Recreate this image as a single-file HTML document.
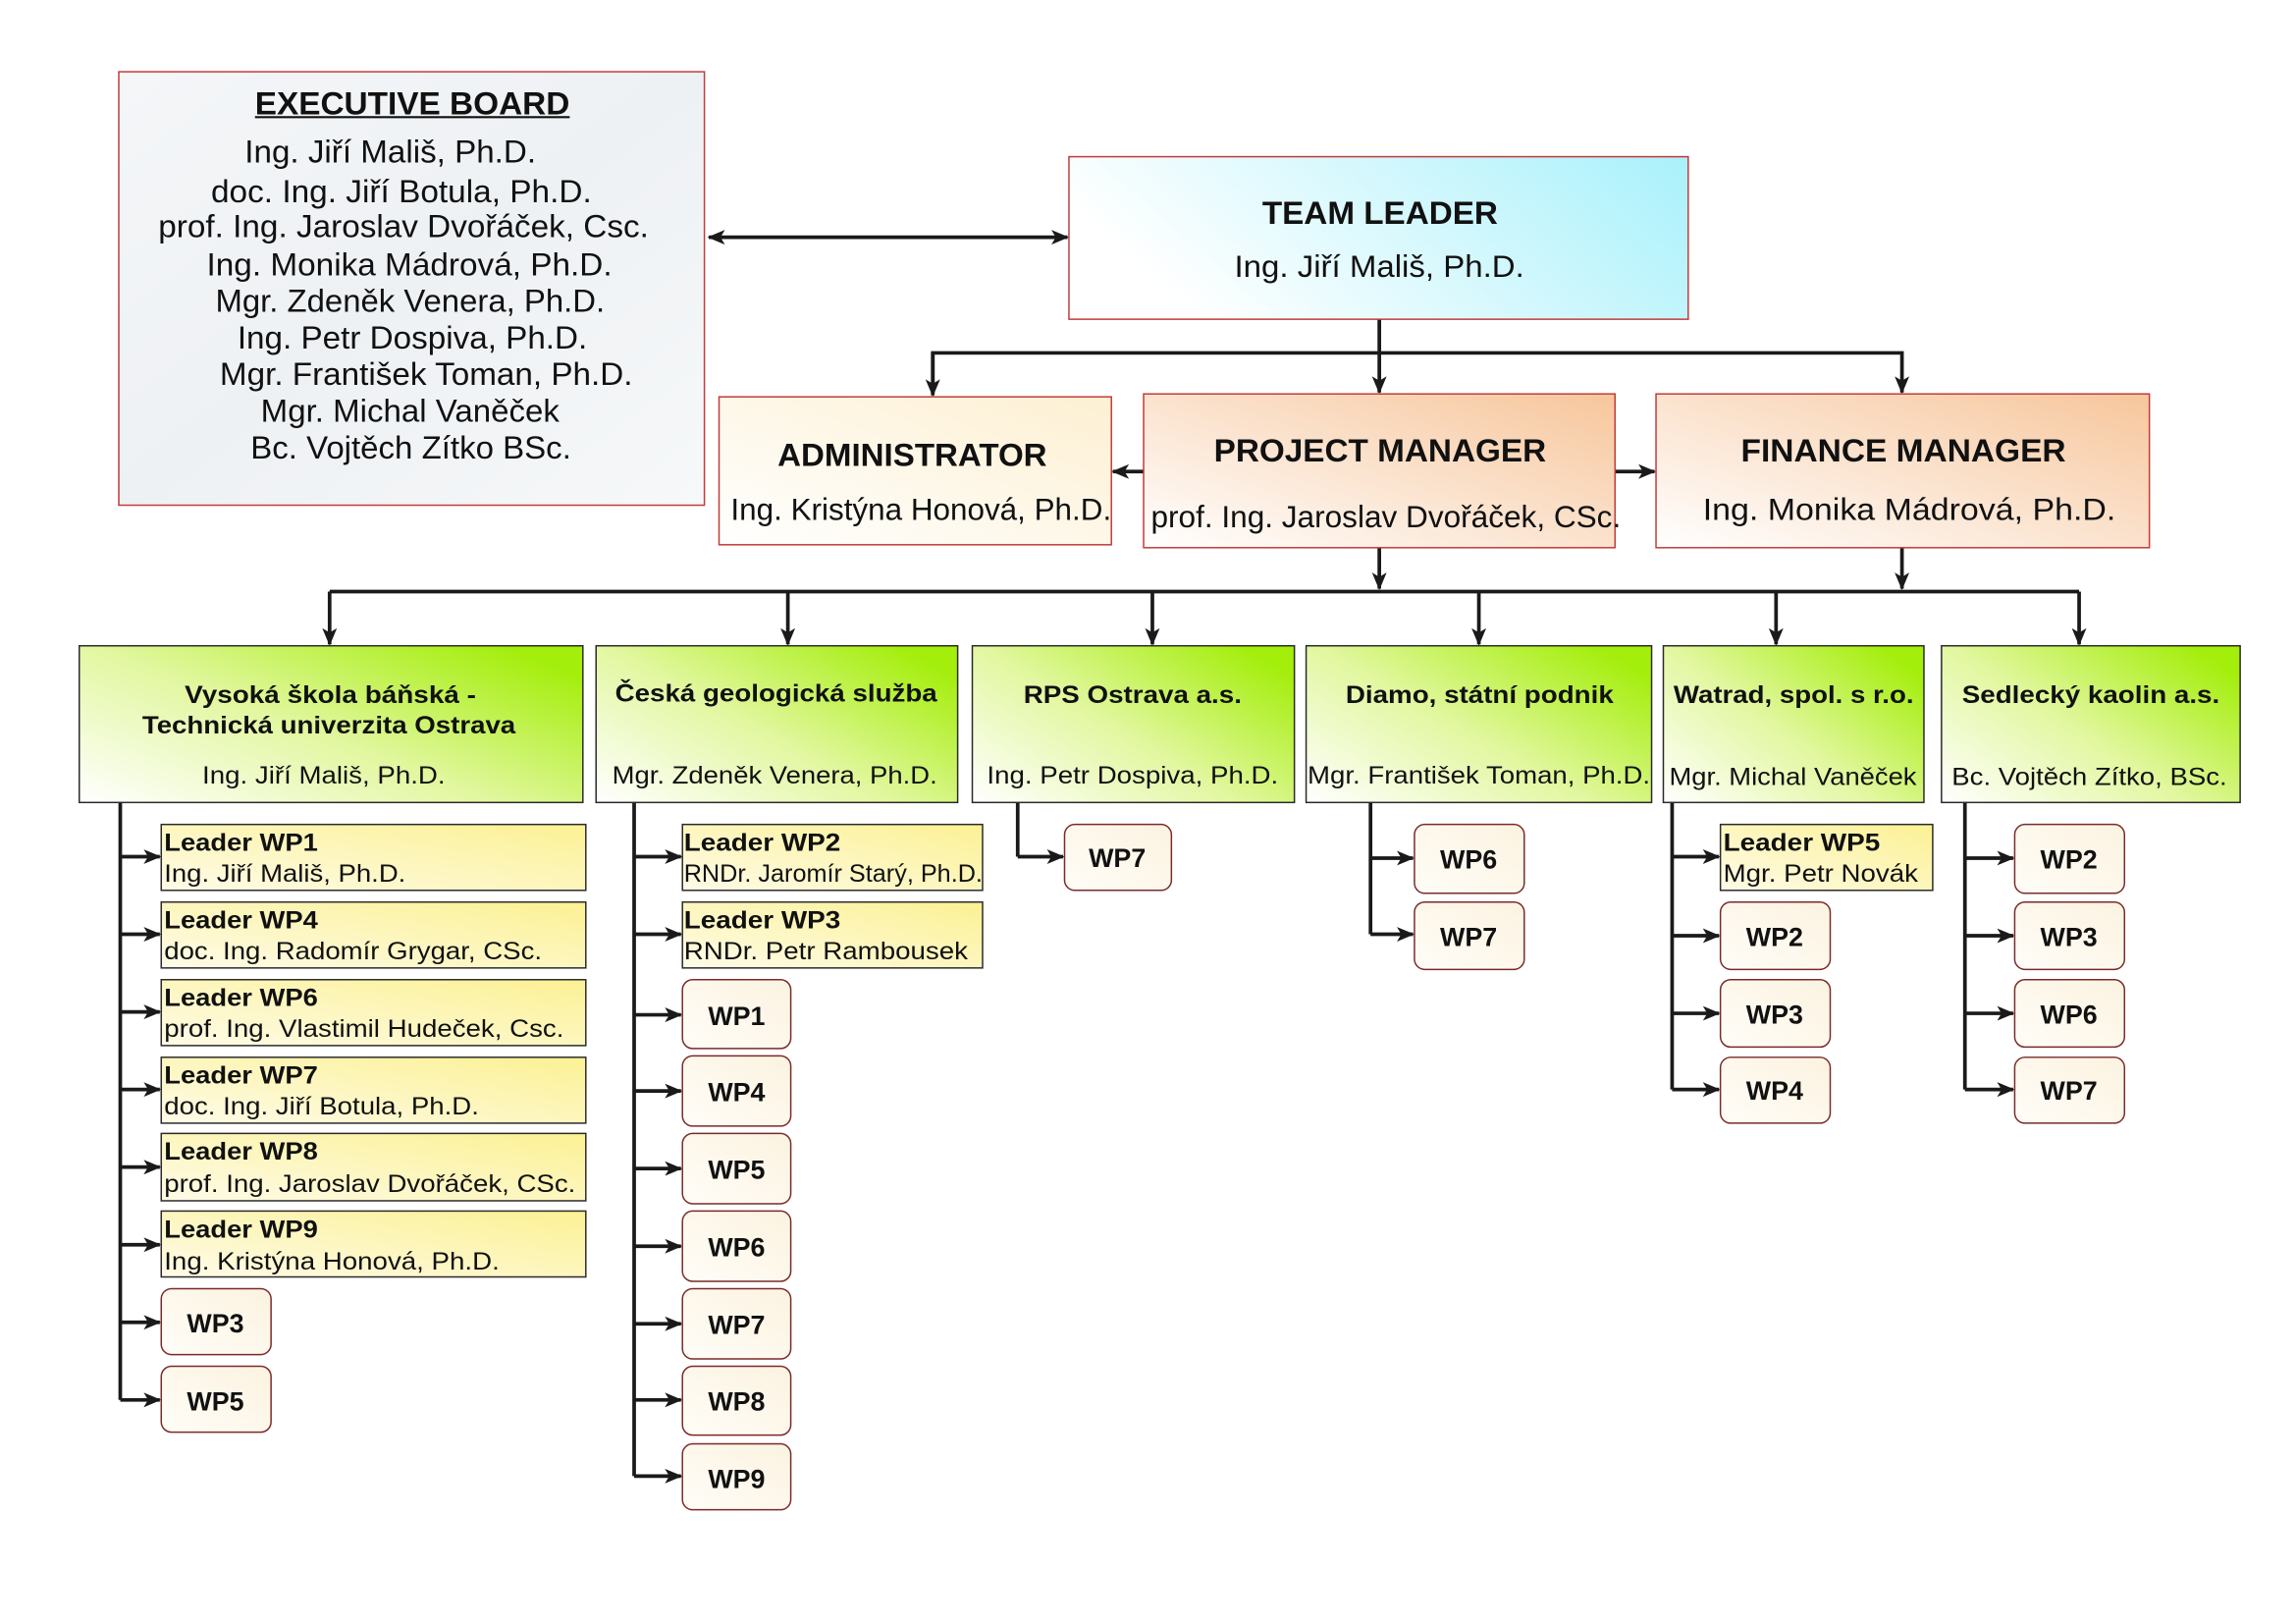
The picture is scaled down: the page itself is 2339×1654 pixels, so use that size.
<!DOCTYPE html>
<html><head><meta charset="utf-8"><style>
html,body{margin:0;padding:0;background:#fff;}
svg{display:block;}
text{font-family:"Liberation Sans",Arial,sans-serif;fill:#111;}
.b{font-weight:bold;}
</style></head><body>
<svg width="2339" height="1654" viewBox="0 0 1568 1109" xmlns="http://www.w3.org/2000/svg">
<defs>
<marker id="ar" markerUnits="userSpaceOnUse" markerWidth="12" markerHeight="12" refX="11" refY="6" orient="auto-start-reverse">
<path d="M0,1 L12,6 L0,11 L3,6 z" fill="#1a1a1a"/></marker>
<linearGradient id="gEx" x1="0" y1="0" x2="1" y2="1"><stop offset="0" stop-color="#f4f6f8"/><stop offset="0.5" stop-color="#eef1f4"/><stop offset="1" stop-color="#f6f8f9"/></linearGradient>
<linearGradient id="gTL" x1="0" y1="0.3" x2="1" y2="0"><stop offset="0" stop-color="#ffffff"/><stop offset="1" stop-color="#a9f1fb"/></linearGradient>
<linearGradient id="gAd" x1="0" y1="1" x2="1" y2="0"><stop offset="0" stop-color="#ffffff"/><stop offset="1" stop-color="#fdf0d2"/></linearGradient>
<linearGradient id="gPM" x1="0" y1="1" x2="1" y2="0"><stop offset="0" stop-color="#ffffff"/><stop offset="1" stop-color="#f7c69c"/></linearGradient>
<linearGradient id="gOr" x1="0" y1="1" x2="1" y2="0.2"><stop offset="0" stop-color="#ffffff"/><stop offset="0.5" stop-color="#e2f7a0"/><stop offset="1" stop-color="#a4ee0c"/></linearGradient>
<linearGradient id="gLd" x1="0" y1="1" x2="1" y2="0"><stop offset="0" stop-color="#fefbe8"/><stop offset="1" stop-color="#fcf193"/></linearGradient>
<linearGradient id="gWP" x1="0" y1="1" x2="1" y2="0"><stop offset="0" stop-color="#fffdf8"/><stop offset="1" stop-color="#fcf3e0"/></linearGradient>
</defs>

<g stroke="#1a1a1a" stroke-width="2.5" fill="none">
<line x1="484" y1="162" x2="729" y2="162" marker-end="url(#ar)" marker-start="url(#ar)"/>
<line x1="942" y1="218" x2="942" y2="268" marker-end="url(#ar)"/>
<polyline points="637,269 637,241 1299,241 1299,268" marker-end="url(#ar)"/>
<line x1="637" y1="241" x2="637" y2="270" marker-end="url(#ar)"/>
<line x1="781" y1="322" x2="760" y2="322" marker-end="url(#ar)"/>
<line x1="1103" y1="322" x2="1130" y2="322" marker-end="url(#ar)"/>
<line x1="942" y1="374" x2="942" y2="402" marker-end="url(#ar)"/>
<line x1="1299" y1="374" x2="1299" y2="402" marker-end="url(#ar)"/>
<line x1="225" y1="404" x2="1420" y2="404"/>
<line x1="225" y1="404" x2="225" y2="440" marker-end="url(#ar)"/>
<line x1="538" y1="404" x2="538" y2="440" marker-end="url(#ar)"/>
<line x1="787" y1="404" x2="787" y2="440" marker-end="url(#ar)"/>
<line x1="1010" y1="404" x2="1010" y2="440" marker-end="url(#ar)"/>
<line x1="1213" y1="404" x2="1213" y2="440" marker-end="url(#ar)"/>
<line x1="1420" y1="404" x2="1420" y2="440" marker-end="url(#ar)"/>
<polyline points="82,548 82,956"/>
<polyline points="433,548 433,1008"/>
<polyline points="695,548 695,585"/>
<polyline points="936,548 936,638"/>
<polyline points="1142,548 1142,744"/>
<polyline points="1342,548 1342,744"/>
<line x1="82" y1="585" x2="109" y2="585" marker-end="url(#ar)"/>
<line x1="82" y1="638" x2="109" y2="638" marker-end="url(#ar)"/>
<line x1="82" y1="691" x2="109" y2="691" marker-end="url(#ar)"/>
<line x1="82" y1="744" x2="109" y2="744" marker-end="url(#ar)"/>
<line x1="82" y1="797" x2="109" y2="797" marker-end="url(#ar)"/>
<line x1="82" y1="850" x2="109" y2="850" marker-end="url(#ar)"/>
<line x1="82" y1="903" x2="109" y2="903" marker-end="url(#ar)"/>
<line x1="82" y1="956" x2="109" y2="956" marker-end="url(#ar)"/>
<line x1="433" y1="585" x2="465" y2="585" marker-end="url(#ar)"/>
<line x1="433" y1="638" x2="465" y2="638" marker-end="url(#ar)"/>
<line x1="433" y1="693" x2="465" y2="693" marker-end="url(#ar)"/>
<line x1="433" y1="745" x2="465" y2="745" marker-end="url(#ar)"/>
<line x1="433" y1="798" x2="465" y2="798" marker-end="url(#ar)"/>
<line x1="433" y1="851" x2="465" y2="851" marker-end="url(#ar)"/>
<line x1="433" y1="904" x2="465" y2="904" marker-end="url(#ar)"/>
<line x1="433" y1="956" x2="465" y2="956" marker-end="url(#ar)"/>
<line x1="433" y1="1008" x2="465" y2="1008" marker-end="url(#ar)"/>
<line x1="695" y1="585" x2="726" y2="585" marker-end="url(#ar)"/>
<line x1="936" y1="586" x2="965" y2="586" marker-end="url(#ar)"/>
<line x1="936" y1="638" x2="965" y2="638" marker-end="url(#ar)"/>
<line x1="1142" y1="585" x2="1174" y2="585" marker-end="url(#ar)"/>
<line x1="1142" y1="639" x2="1174" y2="639" marker-end="url(#ar)"/>
<line x1="1142" y1="692" x2="1174" y2="692" marker-end="url(#ar)"/>
<line x1="1142" y1="744" x2="1174" y2="744" marker-end="url(#ar)"/>
<line x1="1342" y1="586" x2="1375" y2="586" marker-end="url(#ar)"/>
<line x1="1342" y1="639" x2="1375" y2="639" marker-end="url(#ar)"/>
<line x1="1342" y1="692" x2="1375" y2="692" marker-end="url(#ar)"/>
<line x1="1342" y1="744" x2="1375" y2="744" marker-end="url(#ar)"/>
</g>

<g stroke="#c23a3a" stroke-width="1">
<rect x="81" y="49" width="400" height="296" fill="url(#gEx)"/>
<rect x="730" y="107" width="423" height="111" fill="url(#gTL)"/>
<rect x="491" y="271" width="268" height="101" fill="url(#gAd)"/>
<rect x="781" y="269" width="322" height="105" fill="url(#gPM)"/>
<rect x="1131" y="269" width="337" height="105" fill="url(#gPM)"/>
</g>
<g stroke="#2a2a2a" stroke-width="1">
<rect x="54" y="441" width="344" height="107" fill="url(#gOr)"/>
<rect x="407" y="441" width="247" height="107" fill="url(#gOr)"/>
<rect x="664" y="441" width="220" height="107" fill="url(#gOr)"/>
<rect x="892" y="441" width="236" height="107" fill="url(#gOr)"/>
<rect x="1136" y="441" width="178" height="107" fill="url(#gOr)"/>
<rect x="1326" y="441" width="204" height="107" fill="url(#gOr)"/>
<rect x="110" y="563" width="290" height="45" fill="url(#gLd)"/>
<rect x="110" y="616" width="290" height="45" fill="url(#gLd)"/>
<rect x="110" y="669" width="290" height="45" fill="url(#gLd)"/>
<rect x="110" y="722" width="290" height="45" fill="url(#gLd)"/>
<rect x="110" y="774" width="290" height="46" fill="url(#gLd)"/>
<rect x="110" y="827" width="290" height="45" fill="url(#gLd)"/>
<rect x="466" y="563" width="205" height="45" fill="url(#gLd)"/>
<rect x="466" y="616" width="205" height="45" fill="url(#gLd)"/>
<rect x="1175" y="563" width="145" height="45" fill="url(#gLd)"/>
</g>
<g stroke="#7a2a2a" stroke-width="1" fill="url(#gWP)">
<rect x="110" y="880" width="75" height="45" rx="7"/>
<rect x="110" y="933" width="75" height="45" rx="7"/>
<rect x="466" y="669" width="74" height="47" rx="7"/>
<rect x="466" y="721" width="74" height="48" rx="7"/>
<rect x="466" y="774" width="74" height="48" rx="7"/>
<rect x="466" y="827" width="74" height="48" rx="7"/>
<rect x="466" y="880" width="74" height="48" rx="7"/>
<rect x="466" y="933" width="74" height="47" rx="7"/>
<rect x="466" y="986" width="74" height="45" rx="7"/>
<rect x="727" y="563" width="73" height="45" rx="7"/>
<rect x="966" y="563" width="75" height="47" rx="7"/>
<rect x="966" y="616" width="75" height="46" rx="7"/>
<rect x="1175" y="616" width="75" height="46" rx="7"/>
<rect x="1175" y="669" width="75" height="46" rx="7"/>
<rect x="1175" y="722" width="75" height="45" rx="7"/>
<rect x="1376" y="563" width="75" height="47" rx="7"/>
<rect x="1376" y="616" width="75" height="46" rx="7"/>
<rect x="1376" y="669" width="75" height="46" rx="7"/>
<rect x="1376" y="722" width="75" height="45" rx="7"/>
</g>

<g>
<text class="b" x="174" y="78" font-size="22" textLength="215" lengthAdjust="spacingAndGlyphs">EXECUTIVE BOARD</text>
<line x1="174" y1="80" x2="389" y2="80" stroke="#111" stroke-width="1.5"/>
<g font-size="22">
<text x="167" y="111" textLength="199" lengthAdjust="spacingAndGlyphs">Ing. Jiří Mališ, Ph.D.</text>
<text x="144" y="138" textLength="260" lengthAdjust="spacingAndGlyphs">doc. Ing. Jiří Botula, Ph.D.</text>
<text x="108" y="162" textLength="335" lengthAdjust="spacingAndGlyphs">prof. Ing. Jaroslav Dvořáček, Csc.</text>
<text x="141" y="188" textLength="277" lengthAdjust="spacingAndGlyphs">Ing. Monika Mádrová, Ph.D.</text>
<text x="147" y="213" textLength="266" lengthAdjust="spacingAndGlyphs">Mgr. Zdeněk Venera, Ph.D.</text>
<text x="162" y="238" textLength="239" lengthAdjust="spacingAndGlyphs">Ing. Petr Dospiva, Ph.D.</text>
<text x="150" y="263" textLength="282" lengthAdjust="spacingAndGlyphs">Mgr. František Toman, Ph.D.</text>
<text x="178" y="288" textLength="204" lengthAdjust="spacingAndGlyphs">Mgr. Michal Vaněček</text>
<text x="171" y="313" textLength="219" lengthAdjust="spacingAndGlyphs">Bc. Vojtěch Zítko BSc.</text>
</g>
<text class="b" x="862" y="153" font-size="22" textLength="161" lengthAdjust="spacingAndGlyphs">TEAM LEADER</text>
<text x="843" y="189" font-size="21" textLength="198" lengthAdjust="spacingAndGlyphs">Ing. Jiří Mališ, Ph.D.</text>
<text class="b" x="531" y="318" font-size="22" textLength="184" lengthAdjust="spacingAndGlyphs">ADMINISTRATOR</text>
<text x="499" y="355" font-size="21" textLength="260" lengthAdjust="spacingAndGlyphs">Ing. Kristýna Honová, Ph.D.</text>
<text class="b" x="829" y="315" font-size="22" textLength="227" lengthAdjust="spacingAndGlyphs">PROJECT MANAGER</text>
<text x="786" y="360" font-size="21" textLength="321" lengthAdjust="spacingAndGlyphs">prof. Ing. Jaroslav Dvořáček, CSc.</text>
<text class="b" x="1189" y="315" font-size="22" textLength="222" lengthAdjust="spacingAndGlyphs">FINANCE MANAGER</text>
<text x="1163" y="355" font-size="21" textLength="282" lengthAdjust="spacingAndGlyphs">Ing. Monika Mádrová,  Ph.D.</text>

<g font-size="17">
<text class="b" x="126" y="480" textLength="199" lengthAdjust="spacingAndGlyphs">Vysoká škola báňská -</text>
<text class="b" x="97" y="501" textLength="255" lengthAdjust="spacingAndGlyphs">Technická univerzita Ostrava</text>
<text x="138" y="535" textLength="166" lengthAdjust="spacingAndGlyphs">Ing. Jiří Mališ, Ph.D.</text>
<text class="b" x="420" y="479" textLength="220" lengthAdjust="spacingAndGlyphs">Česká geologická služba</text>
<text x="418" y="535" textLength="222" lengthAdjust="spacingAndGlyphs">Mgr. Zdeněk Venera, Ph.D.</text>
<text class="b" x="699" y="480" textLength="149" lengthAdjust="spacingAndGlyphs">RPS Ostrava a.s.</text>
<text x="674" y="535" textLength="199" lengthAdjust="spacingAndGlyphs">Ing. Petr Dospiva, Ph.D.</text>
<text class="b" x="919" y="480" textLength="183" lengthAdjust="spacingAndGlyphs">Diamo, státní podnik</text>
<text x="893" y="535" textLength="234" lengthAdjust="spacingAndGlyphs">Mgr. František Toman, Ph.D.</text>
<text class="b" x="1143" y="480" textLength="164" lengthAdjust="spacingAndGlyphs">Watrad, spol. s r.o.</text>
<text x="1140" y="536" textLength="169" lengthAdjust="spacingAndGlyphs">Mgr. Michal Vaněček</text>
<text class="b" x="1340" y="480" textLength="176" lengthAdjust="spacingAndGlyphs">Sedlecký kaolin a.s.</text>
<text x="1333" y="536" textLength="188" lengthAdjust="spacingAndGlyphs">Bc. Vojtěch Zítko, BSc.</text>
</g>

<g font-size="17">
<text class="b" x="112" y="581" textLength="105" lengthAdjust="spacingAndGlyphs">Leader WP1</text>
<text x="112" y="602" textLength="165" lengthAdjust="spacingAndGlyphs">Ing. Jiří Mališ, Ph.D.</text>
<text class="b" x="112" y="634" textLength="105" lengthAdjust="spacingAndGlyphs">Leader WP4</text>
<text x="112" y="655" textLength="258" lengthAdjust="spacingAndGlyphs">doc. Ing. Radomír Grygar, CSc.</text>
<text class="b" x="112" y="687" textLength="105" lengthAdjust="spacingAndGlyphs">Leader WP6</text>
<text x="112" y="708" textLength="273" lengthAdjust="spacingAndGlyphs">prof. Ing. Vlastimil Hudeček, Csc.</text>
<text class="b" x="112" y="740" textLength="105" lengthAdjust="spacingAndGlyphs">Leader WP7</text>
<text x="112" y="761" textLength="215" lengthAdjust="spacingAndGlyphs">doc. Ing. Jiří Botula, Ph.D.</text>
<text class="b" x="112" y="792" textLength="105" lengthAdjust="spacingAndGlyphs">Leader WP8</text>
<text x="112" y="814" textLength="281" lengthAdjust="spacingAndGlyphs">prof. Ing. Jaroslav Dvořáček, CSc.</text>
<text class="b" x="112" y="845" textLength="105" lengthAdjust="spacingAndGlyphs">Leader WP9</text>
<text x="112" y="867" textLength="229" lengthAdjust="spacingAndGlyphs">Ing. Kristýna Honová, Ph.D.</text>
<text class="b" x="467" y="581" textLength="107" lengthAdjust="spacingAndGlyphs">Leader WP2</text>
<text x="467" y="602" textLength="204" lengthAdjust="spacingAndGlyphs">RNDr. Jaromír Starý, Ph.D.</text>
<text class="b" x="467" y="634" textLength="107" lengthAdjust="spacingAndGlyphs">Leader WP3</text>
<text x="467" y="655" textLength="194" lengthAdjust="spacingAndGlyphs">RNDr. Petr Rambousek</text>
<text class="b" x="1177" y="581" textLength="107" lengthAdjust="spacingAndGlyphs">Leader WP5</text>
<text x="1177" y="602" textLength="133" lengthAdjust="spacingAndGlyphs">Mgr. Petr Novák</text>
</g>

<g font-size="18" text-anchor="middle" font-weight="bold">
<text x="147" y="910">WP3</text>
<text x="147" y="963">WP5</text>
<text x="503" y="700">WP1</text>
<text x="503" y="752">WP4</text>
<text x="503" y="805">WP5</text>
<text x="503" y="858">WP6</text>
<text x="503" y="911">WP7</text>
<text x="503" y="963">WP8</text>
<text x="503" y="1016">WP9</text>
<text x="763" y="592">WP7</text>
<text x="1003" y="593">WP6</text>
<text x="1003" y="646">WP7</text>
<text x="1212" y="646">WP2</text>
<text x="1212" y="699">WP3</text>
<text x="1212" y="751">WP4</text>
<text x="1413" y="593">WP2</text>
<text x="1413" y="646">WP3</text>
<text x="1413" y="699">WP6</text>
<text x="1413" y="751">WP7</text>
</g>
</g>
</svg>
</body></html>
